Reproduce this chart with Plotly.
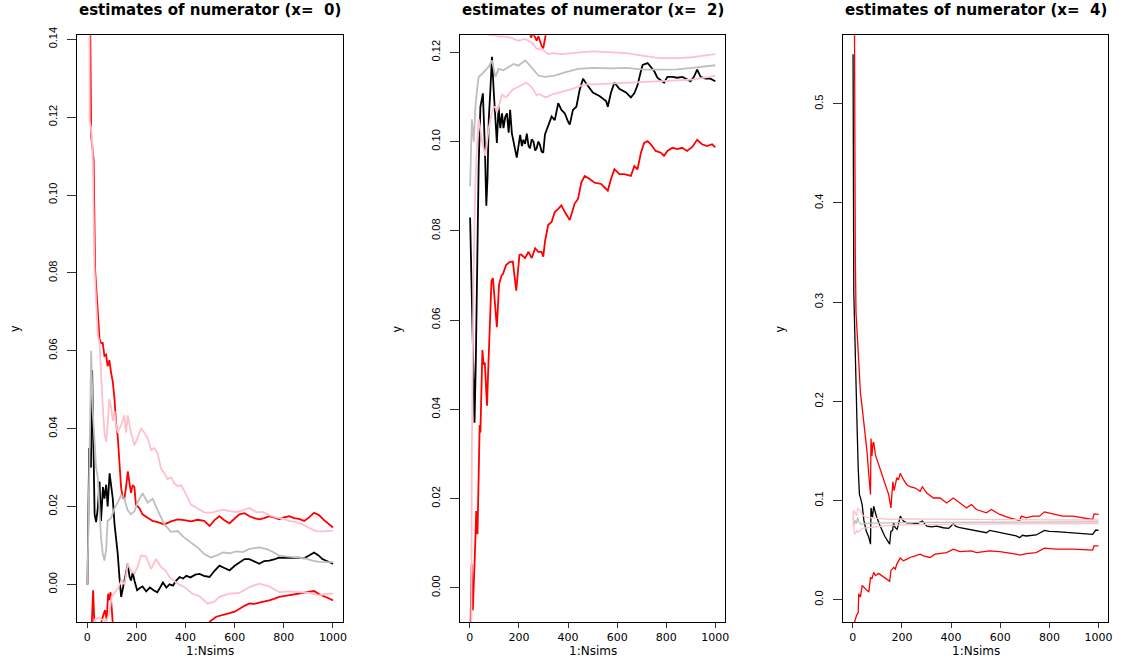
import plotly.graph_objects as go

# ---------------------------------------------------------------- panel x = 0
p1_black_x = [1, 8, 15, 20, 24, 30, 36, 43, 50, 56, 64, 70, 77, 83, 91, 97, 104, 111, 117, 124, 131, 138, 145, 151, 158, 165, 172, 178, 185, 192, 203, 213, 225, 240, 255, 270, 285, 295, 308, 322, 335, 349, 362, 376, 390, 403, 420, 440, 457, 475, 498, 518, 538, 558, 579, 600, 619, 640, 660, 680, 700, 720, 741, 760, 781, 800, 822, 842, 862, 882, 903, 923, 940, 957, 975, 990, 1000]
p1_black_y = [0.0, 0.035, 0.03, 0.055, 0.04, 0.018, 0.016, 0.0196, 0.0264, 0.0163, 0.025, 0.022, 0.0256, 0.02, 0.0285, 0.025, 0.022, 0.0155, 0.012, 0.0079, 0.0019, -0.0032, -0.001, 0.0005, 0.003, 0.0053, 0.002, 0.001, 0.003, 0.001, -0.0015, -0.001, -0.0005, -0.0018, -0.0008, -0.0015, -0.002, -0.001, 0.0005, -0.0008, 0.0, -0.0003, 0.001, 0.0019, 0.0015, 0.0022, 0.0018, 0.0025, 0.0027, 0.0022, 0.0019, 0.0035, 0.0048, 0.0042, 0.0036, 0.0048, 0.0057, 0.0065, 0.0065, 0.0058, 0.0053, 0.006, 0.0061, 0.0064, 0.0069, 0.0068, 0.0067, 0.0068, 0.0069, 0.0067, 0.0074, 0.0082, 0.0075, 0.0065, 0.006, 0.0055, 0.0053]

p1_grey_x = [1, 8, 16, 22, 30, 36, 43, 50, 56, 63, 70, 77, 83, 97, 111, 124, 138, 151, 165, 178, 192, 205, 225, 246, 266, 287, 314, 341, 368, 395, 422, 449, 476, 503, 530, 552, 579, 606, 633, 660, 700, 734, 760, 781, 808, 835, 862, 889, 916, 943, 970, 1000]
p1_grey_y = [0.0, 0.03, 0.06, 0.045, 0.0349, 0.03, 0.0275, 0.02, 0.012, 0.0079, 0.0061, 0.009, 0.0163, 0.017, 0.0196, 0.021, 0.023, 0.022, 0.019, 0.018, 0.0188, 0.0211, 0.0234, 0.021, 0.022, 0.019, 0.0154, 0.0135, 0.0137, 0.012, 0.0107, 0.0095, 0.0078, 0.0069, 0.0075, 0.0082, 0.008, 0.0085, 0.0083, 0.0091, 0.0095, 0.009, 0.0082, 0.0074, 0.0072, 0.0071, 0.0069, 0.0066, 0.0061, 0.0058, 0.0057, 0.0057]

p1_red_hi_x = [1, 3, 8, 12, 16, 20, 26, 32, 39, 43, 50, 56, 63, 70, 77, 83, 90, 97, 104, 111, 117, 124, 131, 138, 145, 151, 158, 165, 172, 178, 185, 192, 198, 212, 225, 246, 266, 287, 314, 341, 368, 395, 422, 449, 476, 498, 518, 538, 558, 579, 600, 619, 640, 660, 680, 700, 720, 741, 760, 781, 800, 822, 842, 862, 883, 903, 923, 943, 964, 980, 1000]
p1_red_hi_y = [0.3, 0.2, 0.16, 0.145, 0.115, 0.113, 0.109, 0.0808, 0.0744, 0.0684, 0.063, 0.062, 0.062, 0.0587, 0.059, 0.056, 0.0576, 0.0544, 0.052, 0.0476, 0.0417, 0.038, 0.0315, 0.0247, 0.0222, 0.022, 0.025, 0.029, 0.026, 0.0235, 0.0255, 0.025, 0.0205, 0.0196, 0.018, 0.0171, 0.0163, 0.016, 0.0154, 0.0162, 0.0167, 0.0165, 0.0162, 0.0166, 0.0163, 0.015, 0.0165, 0.0175, 0.0165, 0.0157, 0.017, 0.018, 0.0183, 0.0175, 0.017, 0.0167, 0.017, 0.0175, 0.0172, 0.0167, 0.0172, 0.0175, 0.017, 0.0168, 0.0163, 0.0172, 0.0184, 0.0178, 0.0165, 0.0157, 0.0146]

p1_red_lo_x = [1, 5, 12, 18, 24, 30, 40, 50, 60, 72, 79, 85, 90, 95, 100, 105, 112, 130, 160, 200, 250, 300, 350, 400, 450, 484, 500, 525, 550, 579, 600, 619, 640, 660, 680, 700, 720, 741, 760, 781, 800, 822, 842, 862, 883, 903, 923, 943, 964, 980, 1000]
p1_red_lo_y = [-0.2, -0.05, -0.02, -0.008, -0.0015, -0.012, -0.011, -0.012, -0.009, -0.0066, -0.009, -0.0024, -0.004, -0.002, -0.007, -0.011, -0.012, -0.014, -0.016, -0.017, -0.017, -0.016, -0.015, -0.013, -0.012, -0.011, -0.0095, -0.0083, -0.0078, -0.0074, -0.007, -0.0062, -0.0055, -0.0049, -0.005, -0.0047, -0.0045, -0.0041, -0.0037, -0.0032, -0.003, -0.0028, -0.0026, -0.0024, -0.0022, -0.002, -0.0017, -0.0025, -0.003, -0.0035, -0.0041]

p1_pink_hi_x = [1, 5, 10, 16, 22, 29, 37, 43, 50, 56, 63, 70, 77, 83, 90, 97, 104, 111, 117, 124, 138, 151, 158, 165, 178, 192, 205, 219, 232, 246, 260, 273, 287, 300, 314, 327, 341, 354, 368, 381, 395, 422, 449, 476, 503, 530, 552, 579, 606, 633, 660, 690, 714, 741, 768, 800, 822, 850, 876, 903, 930, 960, 1000]
p1_pink_hi_y = [0.3, 0.2, 0.119, 0.117, 0.1116, 0.082, 0.07, 0.064, 0.062, 0.056, 0.046, 0.039, 0.0366, 0.041, 0.0476, 0.0455, 0.042, 0.0445, 0.041, 0.039, 0.041, 0.0434, 0.039, 0.0434, 0.039, 0.0357, 0.038, 0.04, 0.039, 0.0375, 0.0345, 0.035, 0.0335, 0.0298, 0.0285, 0.027, 0.0275, 0.026, 0.0252, 0.0255, 0.024, 0.0205, 0.0195, 0.0185, 0.0184, 0.0188, 0.0192, 0.0188, 0.0186, 0.019, 0.0196, 0.0185, 0.0186, 0.0178, 0.0172, 0.0168, 0.0163, 0.016, 0.0154, 0.0145, 0.0137, 0.0136, 0.0138]

p1_pink_lo_x = [1, 5, 15, 31, 51, 58, 78, 90, 99, 112, 125, 139, 152, 165, 178, 192, 205, 219, 239, 260, 280, 300, 320, 334, 350, 368, 396, 428, 456, 489, 516, 538, 579, 619, 660, 700, 741, 781, 822, 862, 903, 943, 975, 1000]
p1_pink_lo_y = [-0.2, -0.05, -0.015, -0.009, -0.0085, -0.009, -0.0095, -0.0075, -0.0032, -0.002, -0.001, 0.001, 0.0, 0.0053, 0.0035, 0.0028, 0.0045, 0.0074, 0.0072, 0.004, 0.0065, 0.0045, 0.0035, 0.0019, 0.001, 0.0002, -0.0007, -0.0024, -0.003, -0.0049, -0.0045, -0.0032, -0.0024, -0.0022, -0.0007, 0.0002, -0.0005, -0.002, -0.0018, -0.002, -0.0022, -0.0028, -0.0024, -0.0024]

# ---------------------------------------------------------------- panel x = 2
p2_black_x = [1, 6, 12, 19, 24, 30, 36, 43, 53, 61, 67, 72, 77, 84, 90, 97, 104, 110, 117, 124, 131, 137, 144, 151, 158, 164, 171, 178, 185, 191, 198, 205, 212, 218, 225, 232, 239, 245, 252, 259, 266, 272, 279, 286, 292, 299, 306, 319, 333, 346, 360, 373, 387, 400, 407, 420, 434, 447, 461, 474, 501, 528, 555, 562, 575, 589, 609, 636, 656, 670, 683, 697, 704, 724, 737, 751, 764, 778, 791, 805, 825, 845, 866, 886, 899, 913, 926, 940, 960, 980, 1000]
p2_black_y = [0.083, 0.07, 0.06, 0.037, 0.05, 0.075, 0.095, 0.1078, 0.1108, 0.099, 0.0856, 0.092, 0.105, 0.112, 0.119, 0.1115, 0.106, 0.0997, 0.1078, 0.103, 0.1063, 0.103, 0.1055, 0.1063, 0.102, 0.1071, 0.1019, 0.1, 0.0982, 0.0964, 0.099, 0.1015, 0.099, 0.1004, 0.0995, 0.1018, 0.099, 0.0985, 0.1005, 0.1, 0.098, 0.0985, 0.1, 0.0992, 0.0978, 0.0975, 0.1016, 0.1034, 0.1056, 0.1048, 0.1086, 0.1071, 0.1063, 0.1045, 0.1038, 0.1071, 0.1078, 0.1115, 0.1141, 0.113, 0.111, 0.1102, 0.1091, 0.1078, 0.111, 0.1132, 0.1118, 0.111, 0.1099, 0.1108, 0.1126, 0.1158, 0.1172, 0.1176, 0.1167, 0.1158, 0.1143, 0.1138, 0.1132, 0.1145, 0.1145, 0.1143, 0.1145, 0.1139, 0.1135, 0.1145, 0.1161, 0.1145, 0.1141, 0.1141, 0.1135]

p2_grey_x = [1, 8, 16, 23, 30, 36, 50, 63, 77, 90, 104, 117, 137, 158, 178, 198, 225, 239, 259, 279, 306, 346, 387, 441, 501, 575, 636, 710, 771, 845, 906, 1000]
p2_grey_y = [0.09, 0.105, 0.1, 0.108, 0.112, 0.1145, 0.1152, 0.116, 0.1168, 0.1182, 0.1145, 0.1163, 0.116, 0.1167, 0.1174, 0.117, 0.1182, 0.1174, 0.116, 0.1148, 0.1145, 0.1148, 0.1155, 0.1163, 0.1165, 0.1164, 0.1165, 0.1161, 0.1161, 0.1162, 0.1165, 0.1171]

p2_red_hi_x = [1, 5, 10, 15, 20, 25, 30, 40, 60, 100, 150, 200, 243, 249, 256, 262, 272, 279, 286, 292, 299, 304, 311, 330, 400, 500, 600, 700, 800, 900, 1000]
p2_red_hi_y = [0.6, 0.3, 0.2, 0.25, 0.16, 0.2, 0.15, 0.14, 0.135, 0.132, 0.13, 0.127, 0.1245, 0.1233, 0.124, 0.1238, 0.1226, 0.1236, 0.1222, 0.1215, 0.1209, 0.1224, 0.1245, 0.126, 0.127, 0.129, 0.13, 0.1345, 0.131, 0.129, 0.1285]

p2_red_lo_x = [1, 3, 7, 12, 20, 26, 31, 36, 40, 43, 47, 51, 56, 61, 67, 70, 74, 78, 84, 88, 94, 101, 110, 119, 129, 135, 148, 162, 175, 189, 202, 209, 225, 239, 252, 266, 279, 292, 299, 306, 319, 333, 346, 360, 373, 387, 407, 427, 441, 454, 468, 488, 508, 535, 562, 575, 589, 609, 629, 656, 670, 683, 697, 710, 724, 737, 757, 778, 791, 805, 825, 845, 865, 885, 906, 926, 946, 966, 987, 1000]
p2_red_lo_y = [-0.3, -0.0076, 0.0053, -0.005, 0.0068, 0.0172, 0.012, 0.0224, 0.0365, 0.0348, 0.0452, 0.0533, 0.05, 0.0505, 0.0437, 0.0408, 0.0476, 0.0548, 0.0643, 0.0688, 0.0694, 0.0636, 0.0584, 0.068, 0.07, 0.0703, 0.0724, 0.073, 0.0731, 0.0666, 0.0746, 0.0747, 0.0739, 0.0753, 0.0739, 0.0761, 0.0753, 0.0753, 0.0742, 0.0776, 0.0813, 0.082, 0.0842, 0.0849, 0.0857, 0.0842, 0.0824, 0.0861, 0.0872, 0.0908, 0.0923, 0.0916, 0.0908, 0.0905, 0.089, 0.0916, 0.0938, 0.0927, 0.0927, 0.0923, 0.0945, 0.0938, 0.0975, 0.0997, 0.1001, 0.0994, 0.0979, 0.0975, 0.0968, 0.0979, 0.0986, 0.0983, 0.0986, 0.0979, 0.0988, 0.1004, 0.0994, 0.099, 0.0994, 0.0987]

p2_pink_hi_x = [1, 10, 20, 30, 40, 60, 81, 101, 121, 135, 171, 198, 225, 243, 256, 272, 296, 319, 337, 373, 404, 441, 472, 501, 575, 636, 710, 771, 845, 906, 960, 1000]
p2_pink_hi_y = [0.3, 0.2, 0.15, 0.13, 0.126, 0.1245, 0.1238, 0.1238, 0.1235, 0.1236, 0.1232, 0.1226, 0.123, 0.1225, 0.122, 0.1208, 0.1206, 0.1196, 0.1198, 0.1196, 0.1198, 0.12, 0.1201, 0.1202, 0.12, 0.1198, 0.1192, 0.1187, 0.1187, 0.1189, 0.1193, 0.1196]

p2_pink_lo_x = [1, 8, 15, 22, 30, 36, 50, 63, 77, 88, 97, 104, 110, 121, 131, 148, 175, 202, 229, 252, 272, 283, 310, 337, 364, 391, 418, 445, 472, 501, 575, 636, 710, 771, 845, 906, 1000]
p2_pink_lo_y = [-0.1, 0.03, 0.07, 0.09, 0.1, 0.105, 0.1, 0.0968, 0.103, 0.1061, 0.1077, 0.1078, 0.1065, 0.1084, 0.1105, 0.1099, 0.1117, 0.1124, 0.1132, 0.1122, 0.1104, 0.1106, 0.1099, 0.1106, 0.111, 0.1115, 0.1118, 0.1124, 0.1128, 0.1128, 0.113, 0.1132, 0.1134, 0.1135, 0.1137, 0.1139, 0.1147]

# ---------------------------------------------------------------- panel x = 4
p3_black_x = [1, 4, 8, 13, 18, 22, 27, 31, 38, 45, 55, 65, 72, 74, 80, 85, 95, 110, 130, 150, 155, 162, 166, 172, 180, 186, 193, 206, 220, 240, 260, 283, 290, 301, 320, 341, 368, 390, 409, 420, 436, 476, 503, 544, 557, 598, 630, 665, 679, 690, 706, 746, 780, 800, 827, 860, 895, 940, 976, 989, 1000]
p3_black_y = [0.55, 0.31, 0.27, 0.23, 0.169, 0.1325, 0.106, 0.103, 0.096, 0.08, 0.069, 0.063, 0.056, 0.0926, 0.083, 0.0943, 0.085, 0.075, 0.064, 0.056, 0.069, 0.07, 0.0776, 0.073, 0.071, 0.076, 0.0843, 0.0793, 0.0776, 0.0776, 0.0766, 0.0793, 0.0776, 0.0743, 0.0735, 0.0743, 0.0726, 0.072, 0.0766, 0.074, 0.0726, 0.071, 0.0693, 0.0676, 0.07, 0.0676, 0.066, 0.0643, 0.0626, 0.065, 0.0643, 0.0653, 0.07, 0.069, 0.0686, 0.068, 0.0676, 0.067, 0.066, 0.0703, 0.07]

p3_grey_x = [1, 5, 10, 15, 20, 25, 35, 50, 80, 120, 200, 300, 400, 600, 800, 1000]
p3_grey_y = [0.083, 0.075, 0.08, 0.077, 0.083, 0.078, 0.076, 0.077, 0.0773, 0.0776, 0.0778, 0.078, 0.078, 0.0782, 0.0784, 0.0786]

p3_red_hi_x = [1, 5, 10, 13, 18, 22, 26, 31, 38, 45, 51, 58, 65, 72, 74, 78, 82, 85, 92, 105, 126, 146, 155, 163, 168, 173, 179, 186, 193, 206, 220, 233, 254, 274, 283, 301, 328, 355, 382, 409, 436, 463, 483, 503, 544, 564, 598, 638, 679, 686, 706, 733, 760, 780, 814, 854, 895, 935, 976, 982, 1000]
p3_red_hi_y = [1.0, 0.6, 0.35, 0.29, 0.27, 0.252, 0.236, 0.209, 0.194, 0.18, 0.169, 0.149, 0.126, 0.106, 0.1625, 0.145, 0.158, 0.159, 0.146, 0.136, 0.122, 0.106, 0.0926, 0.119, 0.11, 0.116, 0.123, 0.121, 0.1275, 0.121, 0.116, 0.114, 0.1126, 0.1093, 0.114, 0.1076, 0.1026, 0.1026, 0.0976, 0.1026, 0.0976, 0.0926, 0.096, 0.091, 0.0876, 0.091, 0.086, 0.0826, 0.08, 0.0843, 0.0826, 0.0843, 0.0843, 0.0886, 0.0866, 0.0843, 0.0843, 0.0826, 0.081, 0.0866, 0.086]

p3_red_lo_x = [1, 4, 15, 22, 24, 31, 38, 51, 65, 72, 78, 85, 92, 105, 126, 150, 155, 166, 173, 179, 193, 206, 220, 233, 254, 274, 287, 314, 335, 355, 382, 409, 436, 483, 503, 557, 598, 665, 679, 706, 746, 780, 827, 895, 976, 982, 1000]
p3_red_lo_y = [-0.5, -0.025, -0.016, -0.013, 0.006, 0.0027, 0.0143, 0.011, 0.0077, 0.0226, 0.021, 0.0276, 0.0243, 0.0266, 0.0226, 0.0186, 0.0293, 0.0326, 0.031, 0.036, 0.042, 0.0393, 0.041, 0.0426, 0.0443, 0.046, 0.0443, 0.0426, 0.046, 0.0466, 0.0476, 0.051, 0.0486, 0.0493, 0.0476, 0.0493, 0.0486, 0.046, 0.045, 0.0466, 0.0476, 0.052, 0.051, 0.051, 0.05, 0.0543, 0.0543]

p3_pink_hi_x = [1, 5, 10, 15, 20, 30, 40, 60, 100, 150, 200, 300, 400, 600, 800, 1000]
p3_pink_hi_y = [0.075, 0.09, 0.088, 0.085, 0.092, 0.09, 0.085, 0.083, 0.082, 0.081, 0.0815, 0.0812, 0.081, 0.0808, 0.0806, 0.0804]

p3_pink_lo_x = [1, 5, 10, 15, 20, 30, 40, 60, 100, 150, 200, 300, 400, 600, 800, 1000]
p3_pink_lo_y = [0.09, 0.068, 0.066, 0.07, 0.068, 0.07, 0.072, 0.0726, 0.074, 0.075, 0.0755, 0.076, 0.0763, 0.0765, 0.0766, 0.0768]

# ---------------------------------------------------------------- axes / labels
panel_titles = ["estimates of numerator (x=\u00a0 0)",
                "estimates of numerator (x=\u00a0 2)",
                "estimates of numerator (x=\u00a0 4)"]
x_ticks = [0, 200, 400, 600, 800, 1000]
y_ticks_1 = [0.00, 0.02, 0.04, 0.06, 0.08, 0.10, 0.12, 0.14]
y_ticks_2 = [0.00, 0.02, 0.04, 0.06, 0.08, 0.10, 0.12]
y_ticks_3 = [0.0, 0.1, 0.2, 0.3, 0.4, 0.5]
y_ranges = [[-0.0097, 0.141], [-0.0077, 0.1238], [-0.0226, 0.569]]
x_range = [-39.96, 1039.96]

W, H = 1125, 661
x_domains = [[77.7 / W, 344.0 / W], [461.7 / W, 727.7 / W], [846.0 / W, 1112.3 / W]]
y_domain = [1 - 621.7 / H, 1 - 27.7 / H]

panels = [
    dict(series=[(p1_black_x, p1_black_y, "black"),
                 (p1_red_lo_x, p1_red_lo_y, "red"), (p1_red_hi_x, p1_red_hi_y, "red"),
                 (p1_grey_x, p1_grey_y, "#bebebe"),
                 (p1_pink_lo_x, p1_pink_lo_y, "#ffc0cb"), (p1_pink_hi_x, p1_pink_hi_y, "#ffc0cb")],
         yticks=y_ticks_1, fmt="{:.2f}", width=1.8),
    dict(series=[(p2_black_x, p2_black_y, "black"),
                 (p2_red_lo_x, p2_red_lo_y, "red"), (p2_red_hi_x, p2_red_hi_y, "red"),
                 (p2_grey_x, p2_grey_y, "#bebebe"),
                 (p2_pink_lo_x, p2_pink_lo_y, "#ffc0cb"), (p2_pink_hi_x, p2_pink_hi_y, "#ffc0cb")],
         yticks=y_ticks_2, fmt="{:.2f}", width=1.8),
    dict(series=[(p3_black_x, p3_black_y, "black"),
                 (p3_red_lo_x, p3_red_lo_y, "red"), (p3_red_hi_x, p3_red_hi_y, "red"),
                 (p3_grey_x, p3_grey_y, "#bebebe"),
                 (p3_pink_lo_x, p3_pink_lo_y, "#ffc0cb"), (p3_pink_hi_x, p3_pink_hi_y, "#ffc0cb")],
         yticks=y_ticks_3, fmt="{:.1f}", width=1.3),
]

fig = go.Figure()
layout = dict(width=W, height=H, margin=dict(l=0, r=0, t=0, b=0),
              paper_bgcolor="white", plot_bgcolor="white", showlegend=False)
annotations = []

tick_font_x = dict(family="DejaVu Sans, Liberation Sans, sans-serif", size=11, color="black")
tick_font_y = dict(family="Liberation Sans, Arial, sans-serif", size=11, color="black")

for i, p in enumerate(panels):
    suffix = "" if i == 0 else str(i + 1)
    xa, ya = "x" + suffix, "y" + suffix
    for xs, ys, col in p["series"]:
        fig.add_trace(go.Scatter(x=xs, y=ys, mode="lines", xaxis=xa, yaxis=ya,
                                 line=dict(color=col, width=p["width"]),
                                 hoverinfo="skip"))
    layout["xaxis" + suffix] = dict(
        domain=x_domains[i], range=x_range, anchor=ya,
        tickmode="array", tickvals=x_ticks, ticktext=[str(v) for v in x_ticks],
        ticks="outside", ticklen=5, tickwidth=1, tickcolor="#333",
        showline=True, linecolor="black", linewidth=1.2, mirror=True,
        showgrid=False, zeroline=False, tickfont=tick_font_x)
    layout["yaxis" + suffix] = dict(
        domain=y_domain, range=y_ranges[i], anchor=xa,
        tickmode="array", tickvals=p["yticks"],
        ticktext=[p["fmt"].format(v) for v in p["yticks"]],
        ticks="outside", ticklen=9, tickwidth=1, tickcolor="#333", tickangle=-90,
        ticklabelstandoff=6,
        showline=True, linecolor="black", linewidth=1.2, mirror=True,
        showgrid=False, zeroline=False, tickfont=tick_font_y)

    cx = (x_domains[i][0] + x_domains[i][1]) / 2
    annotations.append(dict(text="<b>" + panel_titles[i] + "</b>", x=cx, y=1 - 2 / H,
                            xref="paper", yref="paper", xanchor="center", yanchor="middle",
                            showarrow=False,
                            font=dict(family="DejaVu Sans, Liberation Sans, sans-serif",
                                      size=15, color="black")))
    annotations.append(dict(text="1:Nsims", x=cx, y=1 - 651 / H,
                            xref="paper", yref="paper", xanchor="center", yanchor="middle",
                            showarrow=False,
                            font=dict(family="DejaVu Sans, Liberation Sans, sans-serif",
                                      size=12, color="black")))
    annotations.append(dict(text="y", x=(x_domains[i][0] * W - 63) / W, y=1 - 325 / H,
                            xref="paper", yref="paper", xanchor="center", yanchor="middle",
                            textangle=-90, showarrow=False,
                            font=dict(family="Liberation Sans, sans-serif",
                                      size=12, color="black")))

layout["annotations"] = annotations
fig.update_layout(**layout)
fig.write_html("out.html")
